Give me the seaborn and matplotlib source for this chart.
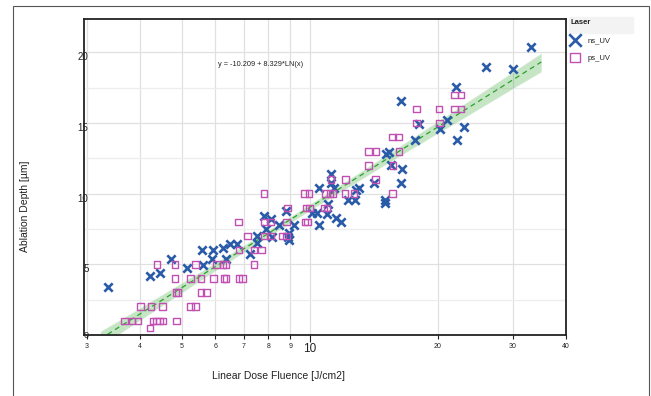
import numpy as np
import pandas as pd
import matplotlib
matplotlib.use("Agg")
import matplotlib.pyplot as plt
import seaborn as sns
from matplotlib.patches import Rectangle

# ---------------- data ----------------
ns_x = [3.36, 4.21, 4.45, 4.72, 5.14, 5.57, 5.60, 5.92, 5.88, 6.26,
        6.36, 6.50, 6.76, 7.23, 7.50, 7.50, 7.83, 7.88, 8.10, 8.15,
        8.47, 8.78, 8.88, 8.92, 8.96, 9.17, 10.10, 10.38, 10.52, 10.52,
        10.98, 11.06, 11.23, 11.23, 11.39, 11.52, 11.83, 12.32, 12.75, 12.86,
        13.07, 14.17, 14.99, 14.99, 15.10, 15.37, 15.55, 16.41, 16.45, 16.37,
        17.64, 18.04, 20.25, 21.04, 22.06, 22.22, 23.03, 25.97, 30.07, 33.13]
ns_y = [3.41, 4.21, 4.39, 5.37, 4.77, 6.00, 4.98, 6.00, 5.37, 6.17,
        5.40, 6.43, 6.43, 5.75, 7.03, 6.52, 8.43, 7.50, 8.20, 6.96,
        7.80, 8.81, 6.96, 7.22, 6.75, 7.80, 8.60, 8.60, 10.37, 7.80,
        8.55, 9.25, 11.40, 10.77, 10.37, 8.25, 7.97, 9.56, 9.56, 10.23,
        10.40, 10.77, 9.32, 9.56, 12.83, 12.94, 12.01, 16.54, 11.78, 10.75,
        13.81, 14.95, 14.58, 15.21, 17.57, 13.81, 14.74, 18.95, 18.81, 20.40]

ps_x = [4.22,
        3.67, 3.82, 3.95, 4.29, 4.37, 4.44, 4.52, 4.86,
        4.00, 4.24, 4.51, 5.25, 5.39,
        4.85, 4.90, 5.55, 5.72,
        4.83, 5.25, 5.55, 5.94, 6.29, 6.36, 6.83, 6.96,
        4.38, 4.83, 5.39, 6.04, 6.25, 6.36, 7.40,
        6.83, 7.40, 7.71,
        7.15, 7.83, 8.10, 8.62, 8.82,
        6.80, 7.83, 8.10, 8.82, 9.76, 9.88,
        8.88, 9.81, 10.00, 10.81, 10.98,
        7.81, 9.73, 9.96, 10.89, 11.15, 11.35, 12.11, 12.72, 15.64,
        11.23, 12.15, 14.27,
        13.76, 15.68,
        13.75, 14.31, 16.22,
        15.64, 16.16,
        17.84, 20.18,
        17.84, 20.15, 21.86, 22.67,
        21.86, 22.67]
ps_y = [0.5,
        1, 1, 1, 1, 1, 1, 1, 1,
        2, 2, 2, 2, 2,
        3, 3, 3, 3,
        4, 4, 4, 4, 4, 4, 4, 4,
        5, 5, 5, 5, 5, 5, 5,
        6, 6, 6,
        7, 7, 7, 7, 7,
        8, 8, 8, 8, 8, 8,
        9, 9, 9, 9, 9,
        10, 10, 10, 10, 10, 10, 10, 10, 10,
        11, 11, 11,
        12, 12,
        13, 13, 13,
        14, 14,
        15, 15,
        16, 16, 16, 16,
        17, 17]

x_ticks = [3, 4, 5, 6, 7, 8, 9, 10, 20, 30, 40]
x_tick_labels = ["3", "4", "5", "6", "7", "8", "9", "10", "20", "30", "40"]
y_ticks = [0, 5, 10, 15, 20]
y_minor_ticks = [2.5, 7.5, 12.5, 17.5]
equation = "y = -10.209 + 8.329*LN(x)"
x_label = "Linear Dose Fluence [J/cm2]"
y_label = "Ablation Depth [µm]"
legend_title = "Laser"

NS_COLOR = "#2a5ba8"
PS_COLOR = "#c150b2"
FIT_COLOR = "#2ca02c"
TXT = "#222222"

# ---------------- figure ----------------
sns.set_style("white")
plt.rcParams["font.family"] = ["Liberation Sans", "DejaVu Sans"]

W, H = 651, 396
fig = plt.figure(figsize=(W / 100, H / 100), dpi=100)
ax = fig.add_axes([84 / W, 1 - 335 / H, (566 - 84) / W, (335 - 18.5) / H])

df = pd.DataFrame({
    "fluence": ns_x + ps_x,
    "depth": ns_y + ps_y,
    "Laser": ["ns_UV"] * len(ns_x) + ["ps_UV"] * len(ps_x),
})

# regression line y = a + b*ln(x), drawn over the range 3.22 .. 35
ax.set_xscale("log")
ax.set_xlim(3.22, 35)
sns.regplot(data=df, x="fluence", y="depth", logx=True, scatter=False,
            truncate=False, ci=95, seed=0, color="#3cb44b", ax=ax,
            line_kws=dict(ls="--", lw=0.9, color=FIT_COLOR, dashes=(4, 3), zorder=2.5))
for coll in ax.collections:
    coll.set_alpha(0.27)
    coll.set_zorder(2)

ns_df = df[df["Laser"] == "ns_UV"]
ps_df = df[df["Laser"] == "ps_UV"]
sns.scatterplot(data=ns_df, x="fluence", y="depth", marker="x", s=36,
                color=NS_COLOR, linewidth=1.9, label="ns_UV", ax=ax, zorder=3)
sns.scatterplot(data=ps_df, x="fluence", y="depth", marker="s", s=22,
                color=PS_COLOR, facecolor="none", edgecolor=PS_COLOR,
                linewidth=1.0, label="ps_UV", ax=ax, zorder=3)

# axes ranges and ticks
ax.set_xlim(2.95, 40)
ax.set_ylim(0, 22.4)
ax.set_xticks(x_ticks, x_tick_labels)
ax.xaxis.set_minor_locator(matplotlib.ticker.NullLocator())
ax.set_yticks(y_ticks, [str(t) for t in y_ticks])
ax.yaxis.set_minor_locator(matplotlib.ticker.FixedLocator(y_minor_ticks))

ax.grid(True, which="major", color="#e0e0e0", lw=0.9)
ax.grid(True, which="minor", axis="y", color="#ededed", lw=0.9)
ax.set_axisbelow(True)

ax.tick_params(axis="x", which="major", direction="out", length=3, width=0.8,
               labelsize=5, pad=3, color=TXT, labelcolor=TXT)
ax.tick_params(axis="y", which="major", length=0, pad=-3.2,
               labelsize=7, labelcolor=TXT)
ax.tick_params(axis="y", which="minor", direction="out", length=3, width=0.8,
               color=TXT)
ax.tick_params(axis="both", bottom=True, left=True)

xt = ax.xaxis.get_major_ticks()
xt[7].label1.set_fontsize(8.5)
xt[7].tick1line.set_markersize(5)
yt = ax.yaxis.get_major_ticks()
for t in yt:
    t.label1.set_verticalalignment("top")
yt[0].label1.set_verticalalignment("center")
yt[0].label1.set_fontsize(6.5)

for sp in ax.spines.values():
    sp.set_visible(True)
    sp.set_color(TXT)
    sp.set_linewidth(1.3)

ax.set_xlabel(x_label, fontsize=7.5, color=TXT, va="center")
ax.set_ylabel(y_label, fontsize=7.5, color=TXT, va="center")
ax.xaxis.set_label_coords((279 - 84) / 482, (335 - 376) / 316.5)
ax.yaxis.set_label_coords((25 - 84) / 482, (335 - 206) / 316.5)

ax.text(7.66, 19.13, equation, ha="center", va="center", fontsize=5.3, color=TXT)

# legend
leg = ax.legend(title=legend_title, loc="upper left",
                bbox_to_anchor=(568 / W, 1 - 17 / H), bbox_transform=fig.transFigure,
                frameon=False, fontsize=5.5, title_fontsize=5.5, alignment="left",
                handletextpad=1.0, labelspacing=1.35, borderaxespad=0, borderpad=0.3,
                markerscale=1.5, handlelength=1.2)
leg.get_title().set_fontweight("bold")
leg.get_title().set_color(TXT)
for t in leg.get_texts():
    t.set_color(TXT)
fig.add_artist(Rectangle((569 / W, 1 - 33 / H), 64 / W, 16 / H,
                         transform=fig.transFigure, color="#f3f3f3", zorder=0))

# outer frame of the figure
fig.add_artist(Rectangle((12.5 / W, -0.05), (649 - 12.5) / W, 1 - 6 / H + 0.05,
                         transform=fig.transFigure, fill=False, ec="#555555",
                         lw=0.8, clip_on=False))

fig.savefig("out.png", dpi=100)
